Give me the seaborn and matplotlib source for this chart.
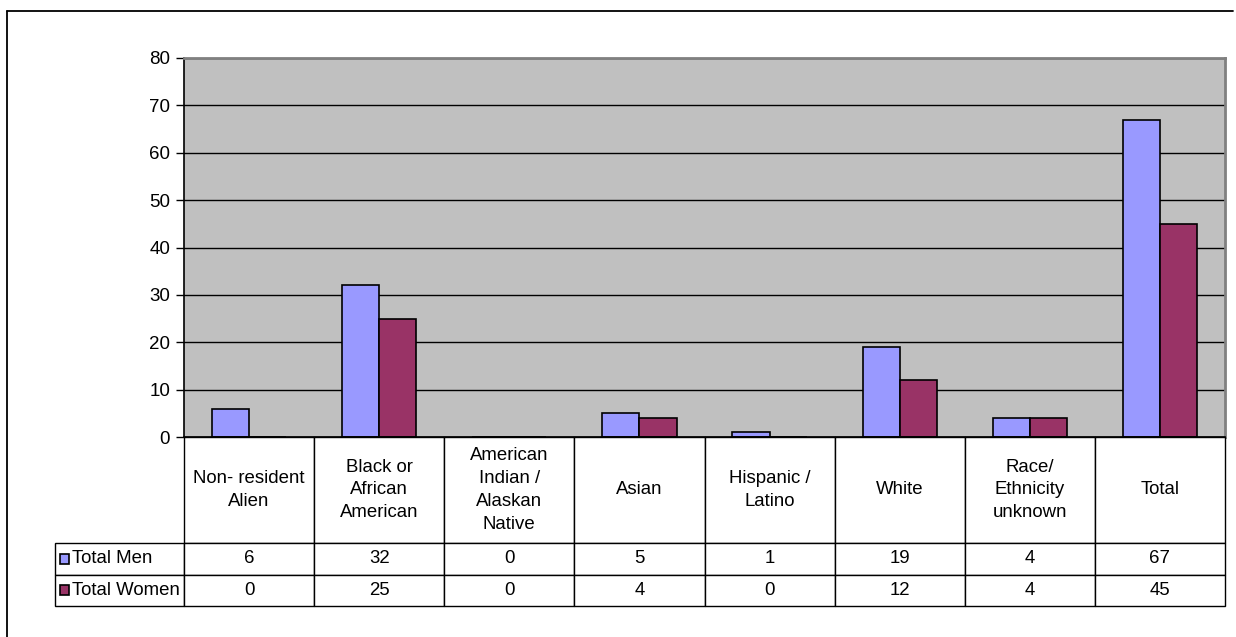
import matplotlib
matplotlib.use("Agg")
import matplotlib.pyplot as plt
import seaborn as sns
import pandas as pd
from matplotlib.patches import Rectangle
from matplotlib.lines import Line2D

categories = ["Non- resident\nAlien", "Black or\nAfrican\nAmerican",
              "American\nIndian /\nAlaskan\nNative", "Asian",
              "Hispanic /\nLatino", "White", "Race/\nEthnicity\nunknown", "Total"]
series_names = ["Total Men", "Total Women"]
men = [6, 32, 0, 5, 1, 19, 4, 67]
women = [0, 25, 0, 4, 0, 12, 4, 45]
colors = ["#9999FF", "#993366"]
y_ticks = [0, 10, 20, 30, 40, 50, 60, 70, 80]

sns.set_theme(style="white")
plt.rcParams["font.family"] = ["Liberation Sans", "DejaVu Sans"]
plt.rcParams["text.color"] = "black"

W, H = 1236, 637
fig = plt.figure(figsize=(W / 100, H / 100), dpi=100)
fig.patch.set_facecolor("white")

# outer chart frame
fig.add_artist(Line2D([7 / W, 1233 / W], [1 - 11 / H, 1 - 11 / H], color="black", lw=1.3))
fig.add_artist(Line2D([7 / W, 7 / W], [1 - 11 / H, 0], color="black", lw=1.3))

left, right, top, bottom = 184, 1225, 58, 437
ax = fig.add_axes([left / W, 1 - bottom / H, (right - left) / W, (bottom - top) / H])
ax.set_facecolor("#C0C0C0")

df = pd.DataFrame({
    "category": categories * 2,
    "value": men + women,
    "series": [series_names[0]] * len(categories) + [series_names[1]] * len(categories),
})
sns.barplot(data=df, x="category", y="value", hue="series", order=categories,
            hue_order=series_names, palette=colors, width=0.57,
            edgecolor="black", linewidth=1.2, saturation=1, legend=False, ax=ax)

ax.set_ylim(0, 80)
ax.set_yticks(y_ticks)
ax.set_yticklabels([str(t) for t in y_ticks], fontsize=13.5, color="black")
ax.yaxis.grid(True, color="black", lw=1)
ax.set_axisbelow(True)
ax.tick_params(axis="y", which="major", left=True, length=6, width=1, color="black", pad=4)
ax.tick_params(axis="x", bottom=False, labelbottom=False)
ax.set_xlabel("")
ax.set_ylabel("")
for side in ["top", "right"]:
    ax.spines[side].set_color("#808080")
    ax.spines[side].set_linewidth(2)
for side in ["left", "bottom"]:
    ax.spines[side].set_color("black")
    ax.spines[side].set_linewidth(1.2)

# data table under the plot, laid out in axes coordinates
ax_h = bottom - top
ax_w = right - left
head_h = 106 / ax_h
row_h = 31.5 / ax_h
n = len(categories)
col_w = 1 / n
lab_w = 129 / ax_w
fs = 13.4


def cell(x0, y0, w, h):
    ax.add_patch(Rectangle((x0, y0), w, h, transform=ax.transAxes, facecolor="white",
                           edgecolor="black", lw=1, clip_on=False, zorder=5))


for j, cat in enumerate(categories):
    x0 = j * col_w
    cell(x0, -head_h, col_w, head_h)
    ax.text(x0 + col_w / 2, -head_h / 2, cat, transform=ax.transAxes, ha="center",
            va="center", fontsize=fs, linespacing=1.45, zorder=6)

for i, vals in enumerate([men, women]):
    y0 = -head_h - (i + 1) * row_h
    yc = y0 + row_h / 2
    cell(-lab_w, y0, lab_w, row_h)
    ax.add_patch(Rectangle((-lab_w + 5 / ax_w, yc - 5 / ax_h), 9 / ax_w, 10 / ax_h,
                           transform=ax.transAxes, facecolor=colors[i], edgecolor="black",
                           lw=1.2, clip_on=False, zorder=6))
    ax.text(-lab_w + 17 / ax_w, yc, series_names[i], transform=ax.transAxes, ha="left",
            va="center", fontsize=fs, zorder=6)
    for j, v in enumerate(vals):
        x0 = j * col_w
        cell(x0, y0, col_w, row_h)
        ax.text(x0 + col_w / 2, yc, str(v), transform=ax.transAxes, ha="center",
                va="center", fontsize=fs, zorder=6)

fig.savefig("out.png", dpi=100)
